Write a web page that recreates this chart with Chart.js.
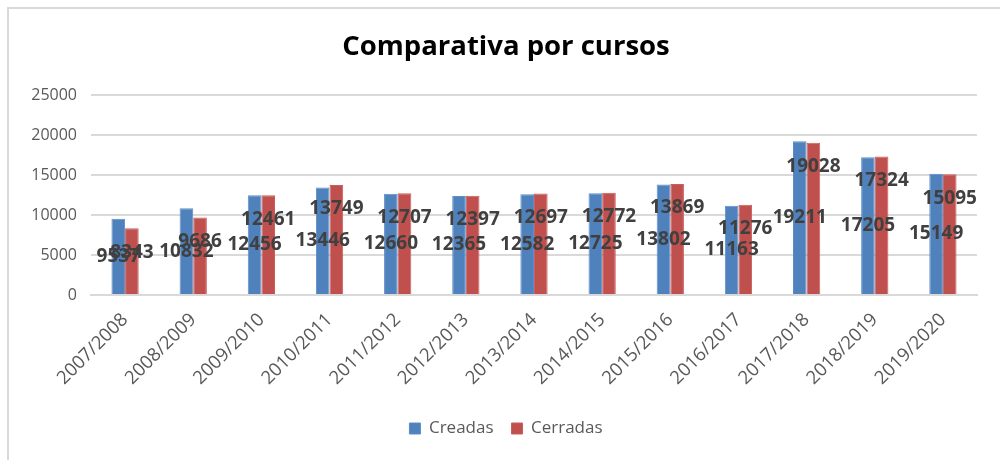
<!DOCTYPE html>
<html>
<head>
<meta charset="utf-8">
<script src="https://cdn.jsdelivr.net/npm/chart.js@4"></script>
<style>
  body { margin: 0; background: #fff; }
  .wrap { position: relative; width: 1000px; height: 460px; overflow: hidden; }
  .frame { position: absolute; left: 7px; top: 7px; width: 1100px; height: 600px;
           border-top: 2px solid #d9d9d9; border-left: 2px solid #d9d9d9; pointer-events: none; }
</style>
</head>
<body>
<div class="wrap">
  <canvas id="chart" width="1000" height="460"></canvas>
  <div class="frame"></div>
</div>
<script>
const CURSOS = ["2007/2008", "2008/2009", "2009/2010", "2010/2011", "2011/2012", "2012/2013", "2013/2014",
                "2014/2015", "2015/2016", "2016/2017", "2017/2018", "2018/2019", "2019/2020"];
const CREADAS = [9537, 10832, 12456, 13446, 12660, 12365, 12582, 12725, 13802, 11163, 19211, 17205, 15149];
const CERRADAS = [8343, 9686, 12461, 13749, 12707, 12397, 12697, 12772, 13869, 11276, 19028, 17324, 15095];
const Y_TICKS = [0, 5000, 10000, 15000, 20000, 25000];

const FONT = "'Open Sans', 'Liberation Sans', sans-serif";
const GRID = "#d9d9d9";
const TEXT = "#595959";

// value labels: Creadas centred in the bar, Cerradas just inside the top (as in the Excel original)
const valueLabels = {
  id: "valueLabels",
  afterDatasetsDraw(chart) {
    const ctx = chart.ctx;
    ctx.save();
    ctx.font = "bold 19px " + FONT;
    ctx.fillStyle = "#404040";
    ctx.textAlign = "center";
    ctx.textBaseline = "middle";
    chart.data.datasets.forEach((ds, i) => {
      chart.getDatasetMeta(i).data.forEach((bar, j) => {
        const y = i === 0 ? (bar.y + bar.base) / 2 : bar.y + 24;
        ctx.fillText(String(ds.data[j]), bar.x, y);
      });
    });
    ctx.restore();
  }
};

new Chart(document.getElementById("chart"), {
  type: "bar",
  data: {
    labels: CURSOS,
    datasets: [
      { label: "Creadas", data: CREADAS, backgroundColor: "#4f81bd", borderColor: "#5b8dc8", borderWidth: 1,
        barPercentage: 1, categoryPercentage: 0.4 },
      { label: "Cerradas", data: CERRADAS, backgroundColor: "#c0504d", borderColor: "#cb5d5a", borderWidth: 1,
        barPercentage: 1, categoryPercentage: 0.4 }
    ]
  },
  options: {
    responsive: false,
    animation: false,
    layout: { padding: { left: 12, right: 0, top: 0, bottom: 13 } },
    plugins: {
      title: {
        display: true,
        text: "Comparativa por cursos",
        color: "#000",
        font: { family: FONT, size: 27.5, weight: "bold" },
        padding: { top: 31, bottom: 31 }
      },
      legend: {
        position: "bottom",
        labels: { color: TEXT, font: { family: FONT, size: 17 }, boxWidth: 11, boxHeight: 11, padding: 18 }
      },
      tooltip: { enabled: false }
    },
    scales: {
      x: {
        grid: { display: false },
        border: { color: GRID, width: 2 },
        ticks: { color: TEXT, font: { family: FONT, size: 18.5 }, maxRotation: 45, minRotation: 45, padding: 6 },
        afterFit(scale) { scale.height = 107; }
      },
      y: {
        min: 0,
        max: Y_TICKS[Y_TICKS.length - 1],
        afterBuildTicks(scale) { scale.ticks = Y_TICKS.map(v => ({ value: v })); },
        grid: { color: GRID, lineWidth: 2, drawTicks: false },
        border: { display: false },
        ticks: { color: TEXT, font: { family: FONT, size: 16 }, padding: 14, callback: v => String(v) },
        afterFit(scale) { scale.width = 79; }
      },
      // empty right-hand gutter so title and legend stay centred on the page
      gutter: {
        type: "linear",
        position: "right",
        grid: { display: false },
        border: { display: false },
        ticks: { display: false },
        afterFit(scale) { scale.width = 23; }
      }
    }
  },
  plugins: [valueLabels]
});
</script>
</body>
</html>
